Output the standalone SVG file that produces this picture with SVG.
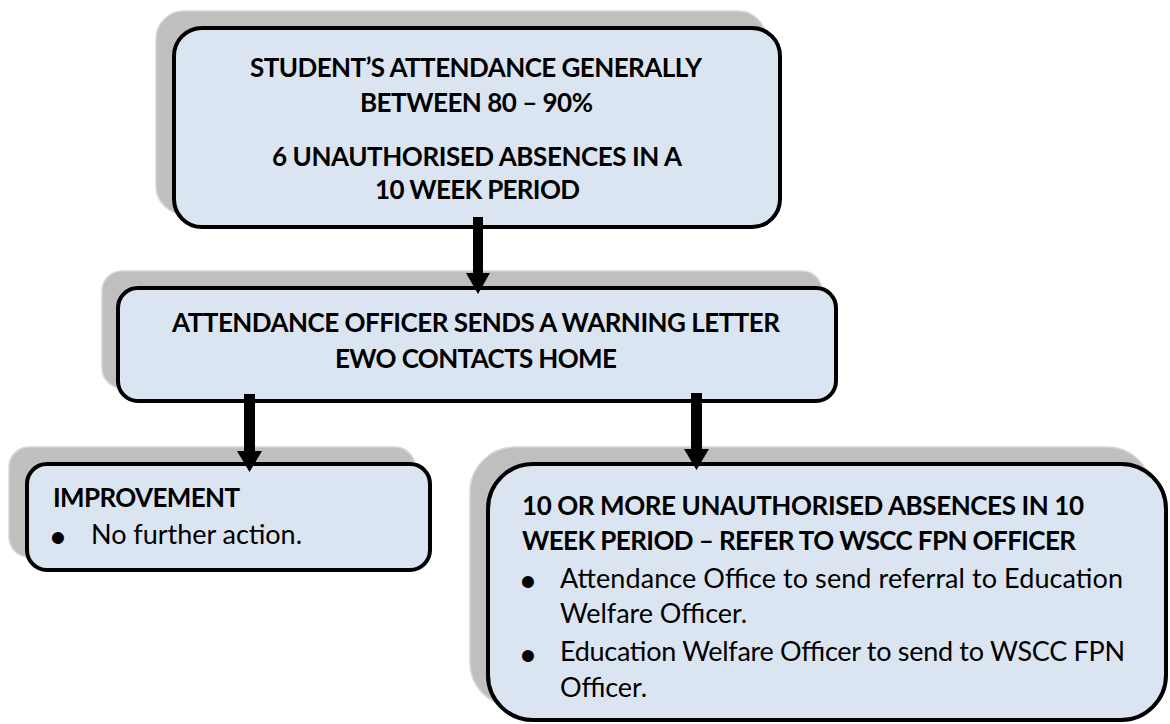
<svg xmlns="http://www.w3.org/2000/svg" width="1170" height="724" viewBox="0 0 1170 724">
  <style>
    .shadow { fill: #bfbfbf; stroke: #d6d6d6; stroke-width: 1.5; }
    .box { fill: #dbe5f1; stroke: #000000; stroke-width: 4; }
    .b { font-family: Lato, "Liberation Sans", sans-serif; font-weight: bold; font-size: 26px; fill: #000; }
    .r { font-family: Lato, "Liberation Sans", sans-serif; font-size: 27px; fill: #000; }
    .c { text-anchor: middle; }
    .dot { font-family: "Liberation Sans", sans-serif; font-size: 44px; fill: #000; text-anchor: middle; }
    .arrow { fill: #000; }
  </style>
  <rect width="1170" height="724" fill="#ffffff"/>

  <g id="node-top">
    <rect class="shadow" x="156" y="11" width="610" height="203" rx="28"/>
    <rect class="box" x="174" y="28" width="606" height="199" rx="28"/>
    <text class="b c" x="476" y="77" textLength="452">STUDENT’S ATTENDANCE GENERALLY</text>
    <text class="b c" x="476.5" y="112" textLength="233">BETWEEN 80 – 90%</text>
    <text class="b c" x="477" y="166" textLength="410">6 UNAUTHORISED ABSENCES IN A</text>
    <text class="b c" x="477.5" y="199" textLength="205">10 WEEK PERIOD</text>
  </g>

  <g id="node-warning">
    <rect class="shadow" x="102" y="271" width="720" height="117" rx="20"/>
    <rect class="box" x="118" y="288" width="718" height="113" rx="20"/>
    <text class="b c" x="476" y="332" textLength="608">ATTENDANCE OFFICER SENDS A WARNING LETTER</text>
    <text class="b c" x="476" y="368" textLength="282">EWO CONTACTS HOME</text>
  </g>

  <g id="node-improvement">
    <rect class="shadow" x="9" y="447" width="406" height="110" rx="20"/>
    <rect class="box" x="27" y="464" width="403" height="106" rx="20"/>
    <text class="b" x="53" y="507" textLength="187">IMPROVEMENT</text>
    <text class="dot" x="58" y="553">•</text>
    <text class="r" x="91" y="544" textLength="211">No further action.</text>
  </g>

  <g id="node-refer">
    <rect class="shadow" x="470" y="447" width="682" height="260" rx="45"/>
    <rect class="box" x="488" y="464" width="678" height="256" rx="45"/>
    <text class="b" x="522" y="515" textLength="562">10 OR MORE UNAUTHORISED ABSENCES IN 10</text>
    <text class="b" x="522" y="550" textLength="554">WEEK PERIOD – REFER TO WSCC FPN OFFICER</text>
    <text class="dot" x="528" y="597">•</text>
    <text class="r" x="560" y="588" textLength="563">Attendance Office to send referral to Education</text>
    <text class="r" x="560" y="623" textLength="187">Welfare Officer.</text>
    <text class="dot" x="528" y="671">•</text>
    <text class="r" x="560" y="661" textLength="565">Education Welfare Officer to send to WSCC FPN</text>
    <text class="r" x="560" y="697" textLength="87">Officer.</text>
  </g>

  <g id="connectors">
    <path class="arrow" d="M473,217 H483 V273 H490 L478,294 L466,273 H473 Z"/>
    <path class="arrow" d="M244,394 H255 V451 H262 L249.5,472 L237,451 H244 Z"/>
    <path class="arrow" d="M691,393 H702 V449 H709 L696.5,470 L684,449 H691 Z"/>
  </g>
</svg>
